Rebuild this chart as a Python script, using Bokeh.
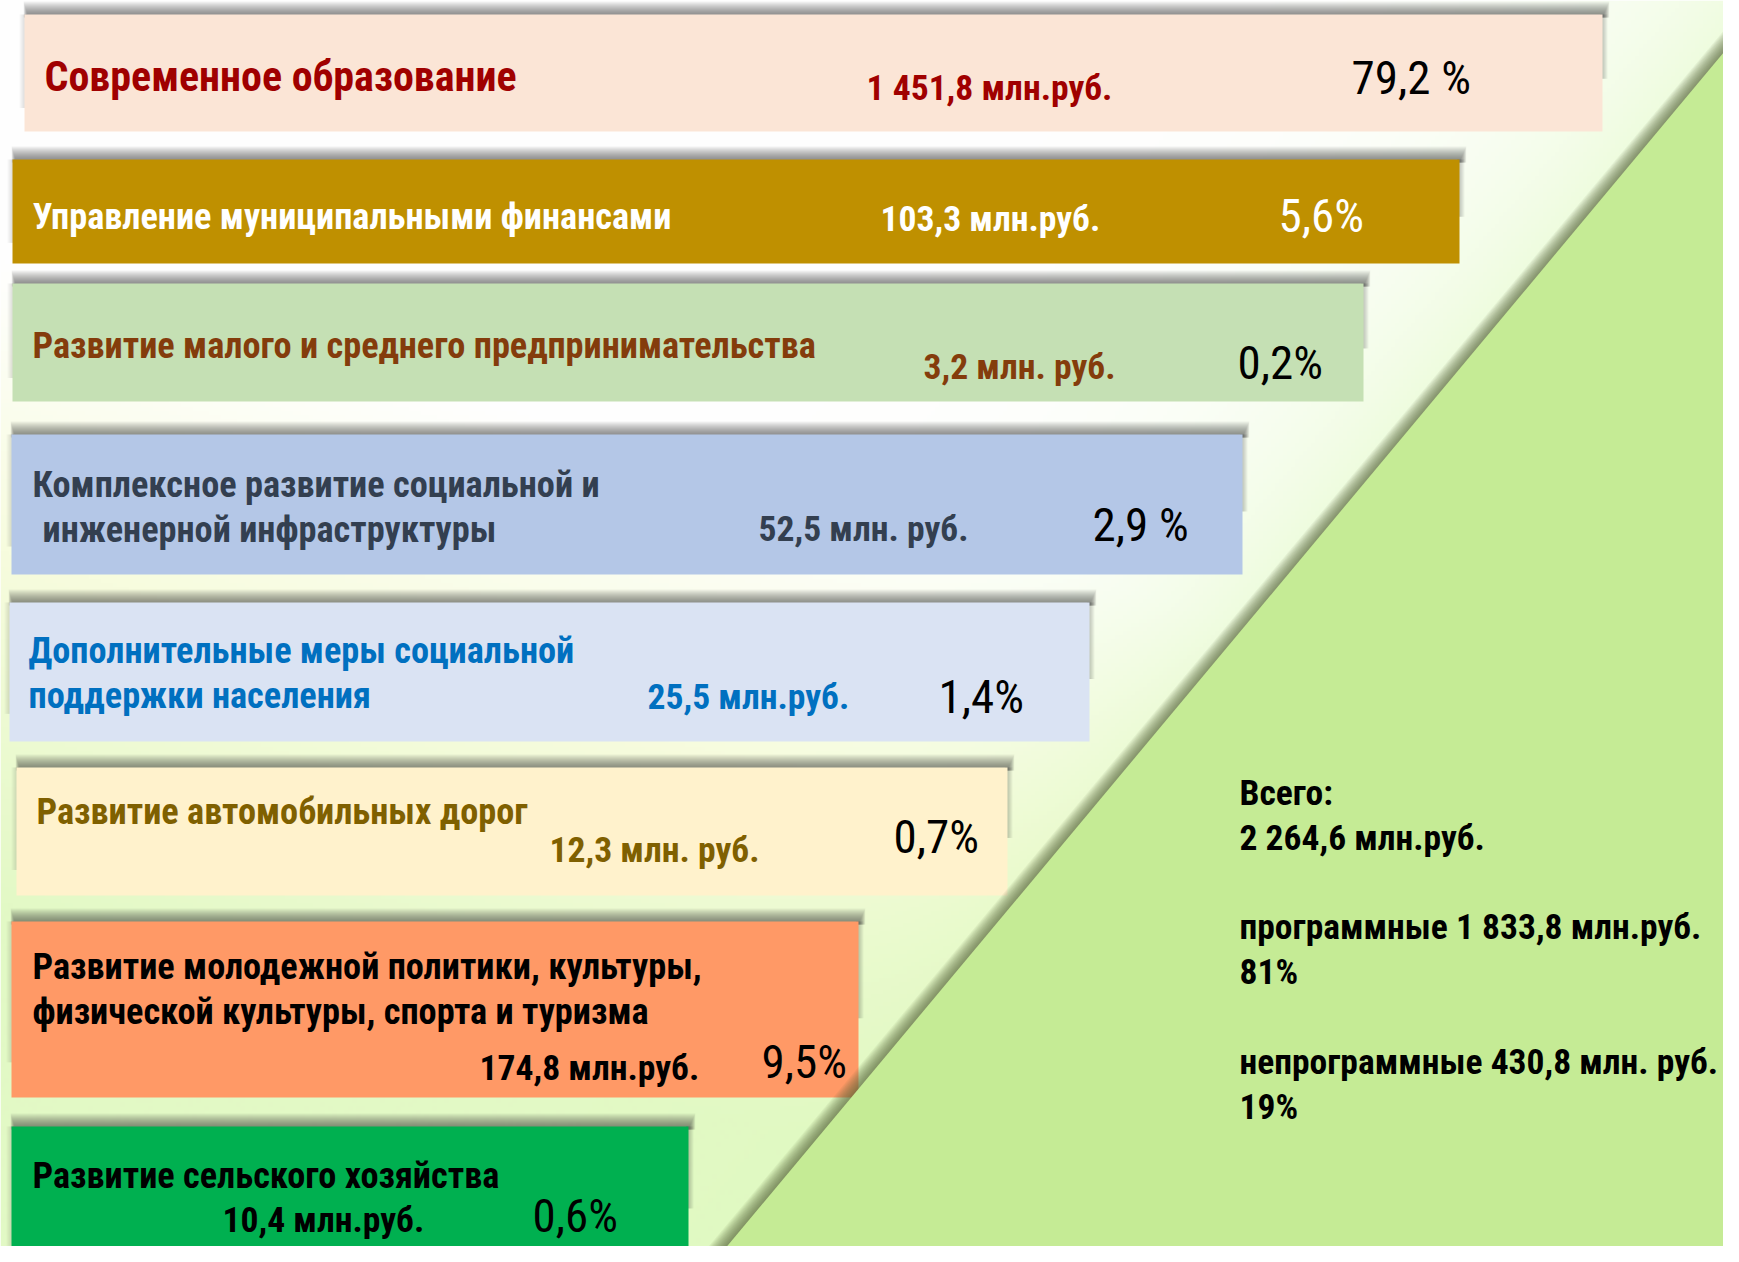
import numpy as np
from bokeh.plotting import figure
from bokeh.models import Range1d, ColumnDataSource
from bokeh.core.properties import value
from bokeh.embed import file_html
from bokeh.resources import INLINE

# ------------------------------------------------------------------ data
programs = [
    "Современное образование",
    "Управление муниципальными финансами",
    "Развитие малого и среднего предпринимательства",
    "Комплексное развитие социальной и\n инженерной инфраструктуры",
    "Дополнительные меры социальной\nподдержки населения",
    "Развитие автомобильных дорог",
    "Развитие молодежной политики, культуры,\nфизической культуры, спорта и туризма",
    "Развитие сельского хозяйства",
]
amounts_mln = [1451.8, 103.3, 3.2, 52.5, 25.5, 12.3, 174.8, 10.4]
amount_labels = ["1 451,8 млн.руб.", "103,3 млн.руб.", "3,2 млн. руб.", "52,5 млн. руб.",
                 "25,5 млн.руб.", "12,3 млн. руб.", "174,8 млн.руб.", "10,4 млн.руб."]
shares_pct = [79.2, 5.6, 0.2, 2.9, 1.4, 0.7, 9.5, 0.6]
share_labels = ["79,2 %", "5,6%", "0,2%", "2,9 %", "1,4%", "0,7%", "9,5%", "0,6%"]
total_lines = ["Всего:", "2 264,6 млн.руб.",
               "программные 1 833,8 млн.руб.", "81%",
               "непрограммные  430,8 млн. руб.", "19%"]

# ------------------------------------------------------------------ layout (reference pixel coords)
W, H = 1739, 1262
PW, PH = 1723, 1246
bar_x0 = [24, 12, 12, 11, 9, 16, 11, 11]
bar_x1 = [1602, 1459, 1363, 1242, 1089, 1007, 858, 688]
bar_y0 = [14, 159, 283, 434, 602, 767, 921, 1126]
bar_y1 = [131, 263, 401, 574, 741, 895, 1097, 1275]
label_x = [44, 32, 32, 32, 28, 36, 32, 32]
label_y = [89, 227, 356, 495, 661, 822, 977, 1186]
line_gap = 45
line2_indent = [0, 0, 0, 10, 0, 0, 0, 0]
value_x = [866, 880, 923, 758, 647, 549, 479, 222]
value_y = [98, 229, 377, 539, 707, 860, 1078, 1230]
pct_x = [1351, 1278, 1237, 1092, 938, 893, 761, 532]
pct_y = [91, 229, 376, 538, 710, 850, 1075, 1229]
total_x = 1239
total_y = [803, 848, 937, 982, 1072, 1117]

bar_colors = ["#FBE5D6", "#BF9000", "#C5E0B4", "#B4C7E7", "#DAE3F3", "#FFF2CC", "#FF9966", "#00B050"]
text_colors = ["#A00000", "#FFFFFF", "#843C0C", "#333F50", "#0070C0", "#7F6000", "#000000", "#000000"]
pct_colors = ["#000000", "#FFFFFF", "#000000", "#000000", "#000000", "#000000", "#000000", "#000000"]
label_sizes = [42, 36.3, 36.3, 36.3, 36.3, 36.3, 36.3, 36.3]
value_size = 35.6
pct_size = 47
total_size = 35.5
tri_color = "#C5EB95"
tri_pts = [(713, 1262), (1739, 33), (1739, 1262)]
BASE_ADJ = 0.3  # renderer places the alphabetic baseline lower; compensate (fraction of font size)

NARROW = value("'Roboto Condensed', 'Liberation Sans Narrow', 'Arial Narrow', 'DejaVu Sans Condensed', 'Liberation Sans', sans-serif")


def Y(y):
    return H - y


def TY(baseline, size):
    return Y(baseline - BASE_ADJ * size)


p = figure(width=PW, height=PH, x_range=Range1d(0, PW), y_range=Range1d(H - PH, H),
           output_backend="svg", toolbar_location=None, min_border=0)
p.axis.visible = False
p.grid.visible = False
p.outline_line_color = None
p.background_fill_color = "white"
p.border_fill_color = "white"

# ------------------------------------------------------------------ background gradient
cell = 4
Wc, Hc = int(np.ceil(W / cell)), int(np.ceil(H / cell))
xs = (np.arange(Wc) + 0.5) * cell
ys_ref = H - (np.arange(Hc) + 0.5) * cell
XX, YY = np.meshgrid(xs, ys_ref)
white = np.array([255, 255, 255], float)
cream = np.array([247, 252, 222], float)
lgreen = np.array([227, 249, 198], float)
s = YY - 0.3 * XX
t1 = np.clip((s - 250) / 300.0, 0, 1)[..., None]
t2 = np.clip((s - 550) / 350.0, 0, 1)[..., None]
col = white * (1 - t1) + cream * t1
col = col * (1 - t2) + lgreen * t2
ex, ey = 1739 - 713, 33 - 1262
L = np.hypot(ex, ey)
d = np.abs(((XX - 713) * (-ey) + (YY - 1262) * ex) / L)
g = (0.55 * np.exp(-d / 130.0))[..., None]
glow = np.array([222, 249, 190], float)
col = col * (1 - g) + glow * g
img = np.empty((Hc, Wc), dtype=np.uint32)
view = img.view(dtype=np.uint8).reshape((Hc, Wc, 4))
view[..., 0] = col[..., 0].astype(np.uint8)
view[..., 1] = col[..., 1].astype(np.uint8)
view[..., 2] = col[..., 2].astype(np.uint8)
view[..., 3] = 255
p.image_rgba(image=[img], x=0, y=0, dw=W, dh=H)

# ------------------------------------------------------------------ bar shadows + bars
for i in range(len(programs)):
    x0, x1, y0, y1 = bar_x0[i], bar_x1[i], bar_y0[i], bar_y1[i]
    for k in range(1, 14):
        p.quad(left=x0 + 3 - 0.3 * k, right=x1 + 1 + 0.45 * k, top=Y(y0 - k), bottom=Y(y0 + 3),
               fill_color="#303030", fill_alpha=0.055, line_color=None)
    for k in range(1, 6):
        p.quad(left=x1 - 2, right=x1 + k, top=Y(y0), bottom=Y(y0 + 0.55 * (y1 - y0)),
               fill_color="#303030", fill_alpha=0.05, line_color=None)
        p.quad(left=x0 - k, right=x0 + 2, top=Y(y0), bottom=Y(y0 + 0.8 * (y1 - y0)),
               fill_color="#303030", fill_alpha=0.03, line_color=None)

bars = ColumnDataSource(dict(
    left=bar_x0, right=bar_x1, top=[Y(v) for v in bar_y0], bottom=[Y(v) for v in bar_y1],
    color=bar_colors, amount=amounts_mln, share=shares_pct))
p.quad(left="left", right="right", top="top", bottom="bottom", source=bars,
       fill_color="color", line_color=None)

# ------------------------------------------------------------------ triangle with shadow
nx, ny = -0.768, -0.641
for k in range(1, 15):
    p.patch([px + nx * k for px, _ in tri_pts] + [1760], [Y(py + ny * k) for _, py in tri_pts] + [Y(1300)],
            fill_color="#55643a", fill_alpha=0.07, line_color=None)
p.patch([px for px, _ in tri_pts], [Y(py) for _, py in tri_pts], fill_color=tri_color, line_color=None)

# ------------------------------------------------------------------ texts
for i, name in enumerate(programs):
    lines = name.split("\n")
    for j, ln in enumerate(lines):
        p.text(x=[label_x[i] + (line2_indent[i] if j else 0)],
               y=[TY(label_y[i] + j * line_gap, label_sizes[i])], text=[ln],
               text_font=NARROW, text_font_style="bold", text_font_size=f"{label_sizes[i]}px",
               text_color=text_colors[i], text_align="left", text_baseline="alphabetic")
    p.text(x=[value_x[i]], y=[TY(value_y[i], value_size)], text=[amount_labels[i]],
           text_font=NARROW, text_font_style="bold", text_font_size=f"{value_size}px",
           text_color=text_colors[i], text_align="left", text_baseline="alphabetic")
    p.text(x=[pct_x[i]], y=[TY(pct_y[i], pct_size)], text=[share_labels[i]],
           text_font=NARROW, text_font_style="normal", text_font_size=f"{pct_size}px",
           text_color=pct_colors[i], text_align="left", text_baseline="alphabetic")

p.text(x=[total_x] * len(total_lines), y=[TY(v, total_size) for v in total_y], text=total_lines,
       text_font=NARROW, text_font_style="bold", text_font_size=f"{total_size}px",
       text_color="#000000", text_align="left", text_baseline="alphabetic")

open("out.html", "w").write(file_html(p, INLINE))
